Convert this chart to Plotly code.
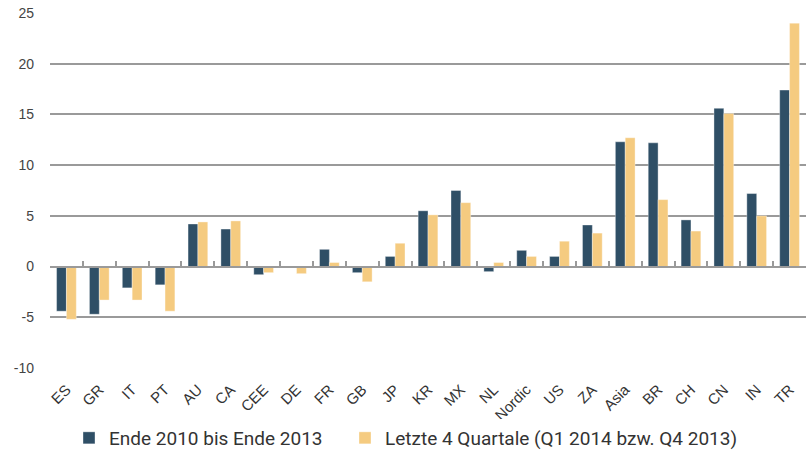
import plotly.graph_objects as go

categories = ["ES", "GR", "IT", "PT", "AU", "CA", "CEE", "DE", "FR", "GB", "JP", "KR",
              "MX", "NL", "Nordic", "US", "ZA", "Asia", "BR", "CH", "CN", "IN", "TR"]
ende_2010_2013 = [-4.4, -4.7, -2.1, -1.8, 4.2, 3.7, -0.8, -0.1, 1.7, -0.6, 1.0, 5.5,
                  7.5, -0.5, 1.6, 1.0, 4.1, 12.3, 12.2, 4.6, 15.6, 7.2, 17.4]
letzte_4_quartale = [-5.2, -3.3, -3.3, -4.4, 4.4, 4.5, -0.6, -0.7, 0.4, -1.5, 2.3, 5.1,
                     6.3, 0.4, 1.0, 2.5, 3.3, 12.7, 6.6, 3.5, 15.1, 5.0, 24.0]
series_names = ["Ende 2010 bis Ende 2013", "Letzte 4 Quartale (Q1 2014 bzw. Q4 2013)"]
y_ticks = [-10, -5, 0, 5, 10, 15, 20, 25]

dark = "#2F4F66"
light = "#F5CB80"
grid = "#9A9A9A"

fig = go.Figure()
fig.add_trace(go.Bar(x=categories, y=ende_2010_2013, name=series_names[0], legend="legend",
                     marker=dict(color=dark, line=dict(color="rgba(255,255,255,0.6)", width=0.6))))
fig.add_trace(go.Bar(x=categories, y=letzte_4_quartale, name=series_names[1], legend="legend2",
                     marker=dict(color=light, line=dict(color="rgba(255,255,255,0.6)", width=0.6))))
# invisible helper trace for the zero-line axis with boundary ticks
fig.add_trace(go.Scatter(x=categories, y=[0] * len(categories), xaxis="x2", mode="lines",
                         line=dict(width=0), showlegend=False, hoverinfo="skip"))

y_min, y_max = -10, 25
x_range = [-0.5, len(categories) - 0.5]
legend_font = dict(family="Roboto, sans-serif", size=19, color="#333333")
fig.update_layout(
    width=810, height=452,
    margin=dict(l=50, r=4, t=13, b=84),
    paper_bgcolor="white", plot_bgcolor="white",
    barmode="group", bargap=0.4, bargroupgap=0.0,
    font=dict(family="Liberation Sans, Arial, sans-serif", color="#333333", size=13),
    xaxis=dict(type="category", range=x_range, showgrid=False, showline=False, ticks="",
               automargin=False, tickangle=-45, tickfont=dict(size=15, color="#333333"),
               ticklabelstandoff=9, zeroline=False),
    xaxis2=dict(type="category", overlaying="x", matches="x", anchor="free",
                position=(0 - y_min) / (y_max - y_min), side="bottom", automargin=False,
                showline=True, linecolor=grid, linewidth=2,
                ticks="inside", tickson="boundaries", ticklen=5, tickwidth=2, tickcolor=grid,
                showticklabels=False, showgrid=False, zeroline=False),
    yaxis=dict(range=[y_min, y_max], tickvals=y_ticks, ticktext=[str(v) for v in y_ticks],
               showgrid=True, gridcolor=grid,
               gridwidth=1.5, zeroline=False, showline=False, ticks="", automargin=False,
               tickfont=dict(size=14, color="#444444"), ticklabelstandoff=15),
    legend=dict(orientation="h", xref="container", yref="container",
                x=69 / 810, xanchor="left", y=(452 - 438) / 452, yanchor="middle",
                font=legend_font, itemwidth=30),
    legend2=dict(orientation="h", xref="container", yref="container",
                 x=345 / 810, xanchor="left", y=(452 - 438) / 452, yanchor="middle",
                 font=legend_font, itemwidth=30),
)
fig.write_html("out.html", post_script="document.body.style.margin='0';",
               config={"displayModeBar": False})
